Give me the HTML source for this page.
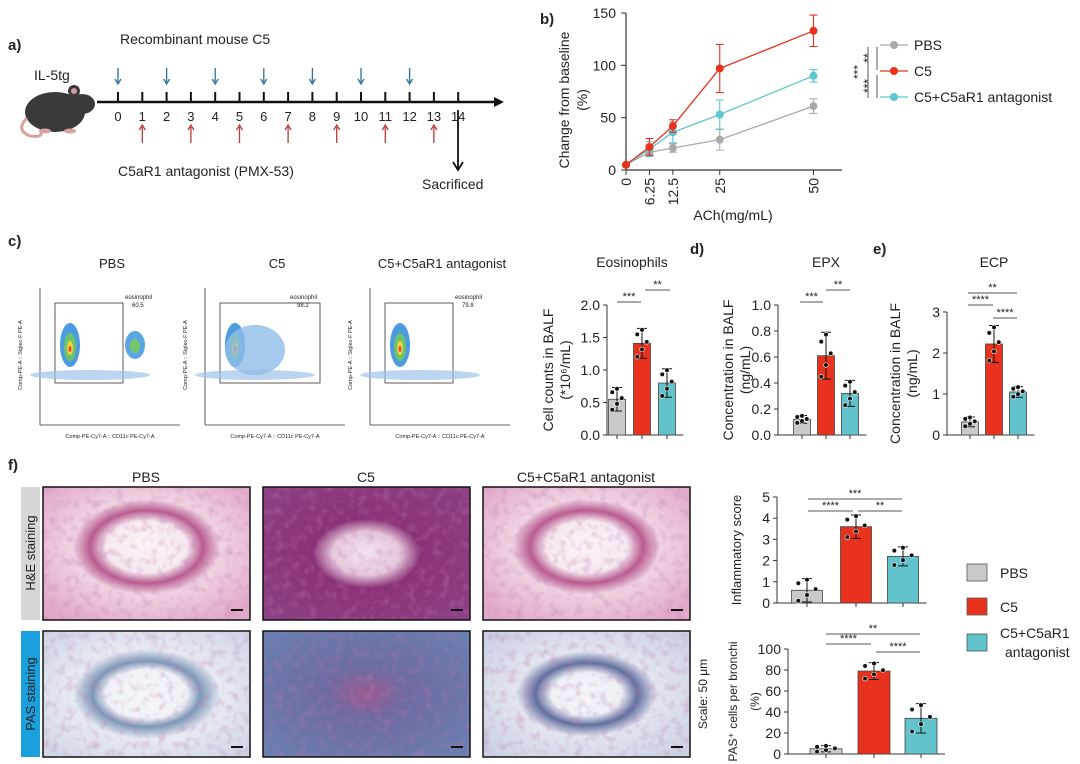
<!DOCTYPE html>
<html><head><meta charset="utf-8">
<style>
body{margin:0;background:#fff;font-family:"Liberation Sans",sans-serif}
svg{display:block}
text{font-family:"Liberation Sans",sans-serif;fill:#222}
</style></head>
<body>
<svg id="fig" width="1080" height="764" viewBox="0 0 1080 764" xmlns="http://www.w3.org/2000/svg">
<defs>
<radialGradient id="he1" cx="50%" cy="45%" r="65%"><stop offset="0" stop-color="#fbf3f8"/><stop offset="0.3" stop-color="#f6e9f1"/><stop offset="0.42" stop-color="#b85a8e"/><stop offset="0.55" stop-color="#f0d2e2"/><stop offset="1" stop-color="#e3a9c9"/></radialGradient>
<radialGradient id="he2" cx="50%" cy="50%" r="65%"><stop offset="0" stop-color="#f3e4ef"/><stop offset="0.25" stop-color="#e6c8dc"/><stop offset="0.4" stop-color="#8a3277"/><stop offset="1" stop-color="#8d3f84"/></radialGradient>
<radialGradient id="pas1" cx="50%" cy="50%" r="65%"><stop offset="0" stop-color="#f6f6f9"/><stop offset="0.3" stop-color="#f1f2f7"/><stop offset="0.4" stop-color="#7c97b8"/><stop offset="0.55" stop-color="#e8eaf2"/><stop offset="1" stop-color="#d2d7e8"/></radialGradient>
<radialGradient id="pas2" cx="50%" cy="50%" r="65%"><stop offset="0" stop-color="#9b5a91"/><stop offset="0.3" stop-color="#6d6aa2"/><stop offset="1" stop-color="#6a7eb0"/></radialGradient>
<radialGradient id="pas3" cx="50%" cy="50%" r="65%"><stop offset="0" stop-color="#f6f5f9"/><stop offset="0.26" stop-color="#eef0f6"/><stop offset="0.38" stop-color="#5f6e9e"/><stop offset="0.52" stop-color="#e3e5f0"/><stop offset="1" stop-color="#ccd1e4"/></radialGradient>
<filter id="tex" x="0" y="0" width="100%" height="100%">
<feTurbulence type="fractalNoise" baseFrequency="0.12" numOctaves="2" seed="3" result="n"/>
<feColorMatrix in="n" type="matrix" values="0 0 0 0 0.5  0 0 0 0 0.2  0 0 0 0 0.45  0 0 0 1.6 -0.75" result="m"/>
<feComposite in="m" in2="SourceGraphic" operator="in"/>
</filter>
</defs>
</svg>
<script>
// ---------- data ----------
const doses = [0, 6.25, 12.5, 25, 50];
const pbsMean = [5, 17, 21, 29, 61];
const pbsErr = [1, 3, 4, 10, 7];
const c5Mean = [5, 22, 42, 97, 133];
const c5Err = [1, 8, 6, 23, 15];
const antMean = [5, 20, 36, 53, 90];
const antErr = [1, 7, 10, 14, 6];
const eosMean = [0.55, 1.41, 0.8];
const eosErr = [0.18, 0.23, 0.22];
const epxMean = [0.12, 0.61, 0.32];
const epxErr = [0.03, 0.18, 0.1];
const ecpMean = [0.32, 2.22, 1.05];
const ecpErr = [0.12, 0.45, 0.13];
const inflMean = [0.6, 3.6, 2.2];
const inflErr = [0.55, 0.55, 0.45];
const pasMean = [5, 79, 34];
const pasErr = [3, 8, 14];
const eosTicks = ["0.0","0.5","1.0","1.5","2.0"];
const epxTicks = ["0.0","0.2","0.4","0.6","0.8","1.0"];
const ecpTicks = ["0","1","2","3"];
const inflTicks = ["0","1","2","3","4","5"];
const pasTicks = ["0","20","40","60","80","100"];
const lineTicks = ["0","50","100","150"];
const groups = ["PBS","C5","C5+C5aR1 antagonist"];
const colors = ["#c9c9c9","#e8321e","#62c3cc"];
const lineColors = ["#a9a9a9","#e8321e","#5cc5d0"];

const svg = document.getElementById('fig');
const NS = 'http://www.w3.org/2000/svg';
function mk(tag, attrs, parent){const e=document.createElementNS(NS,tag);for(const k in attrs)e.setAttribute(k,attrs[k]);(parent||svg).appendChild(e);return e;}
function txt(x,y,s,size,anchor,extra,parent){const e=mk('text',Object.assign({x:x,y:y,'font-size':size,'text-anchor':anchor||'start'},extra||{}),parent);e.textContent=s;return e;}

// ---------- panel a ----------
let el;
el=txt(8,50,'a)',15,'start',{'font-weight':'bold'});


el=txt(34,80,'IL-5tg',14);


const mg=mk('g',{});


mk('ellipse',{cx:55,cy:112,rx:30,ry:20,fill:'#3a3a3a'},mg);
mk('ellipse',{cx:82,cy:104,rx:13,ry:10,fill:'#3a3a3a'},mg);
mk('circle',{cx:74,cy:91,r:6,fill:'#3a3a3a'},mg);
mk('circle',{cx:74,cy:91,r:3,fill:'#d49a9a'},mg);
mk('path',{d:'M27 118 Q15 130 30 136 Q45 138 40 130',stroke:'#d9a0a0','stroke-width':3,fill:'none'},mg);
mk('ellipse',{cx:45,cy:131,rx:6,ry:2.5,fill:'#d9a0a0'},mg);
mk('ellipse',{cx:70,cy:131,rx:6,ry:2.5,fill:'#d9a0a0'},mg);
el=txt(120,44,'Recombinant mouse C5',14);


el=mk('line',{x1:97,y1:102,x2:496,y2:102,stroke:'#111','stroke-width':2.5});


mk('path',{d:'M504 102 L494 97 L494 107 Z',fill:'#111'});
for(let i=0;i<=14;i++){
  const x=118+i*24.3;
  el=mk('line',{x1:x,y1:92,x2:x,y2:102,stroke:'#111','stroke-width':2});
  
  
  el=txt(x,121,String(i),13,'middle');
  
  
  if(i%2===0&&i<=12){
    el=mk('path',{d:`M${x} 68 L${x} 82 M${x-3} 79 L${x} 84 L${x+3} 79`,stroke:'#2e6e96','stroke-width':1.3,fill:'none'});
    
    
  }
  if(i%2===1){
    el=mk('path',{d:`M${x} 143 L${x} 127 M${x-3} 130 L${x} 125 L${x+3} 130`,stroke:'#b83a3a','stroke-width':1.3,fill:'none'});
    
    
  }
}
el=txt(118,176,'C5aR1 antagonist (PMX-53)',14);


el=mk('path',{d:'M458 110 L458 168 M453 162 L458 170 L463 162',stroke:'#111','stroke-width':1.8,fill:'none'});


el=txt(422,189,'Sacrificed',14);



// ---------- panel b ----------
el=txt(540,24,'b)',15,'start',{'font-weight':'bold'});


const bx=v=>626+3.75*v, by=v=>170-v*157/150;
mk('line',{x1:626,y1:13,x2:626,y2:170,stroke:'#333','stroke-width':1.2});
mk('line',{x1:626,y1:170,x2:842,y2:170,stroke:'#333','stroke-width':1.2});
lineTicks.forEach(t=>{const y=by(+t);mk('line',{x1:621,y1:y,x2:626,y2:y,stroke:'#333'});
  el=txt(616,y+5,t,14,'end');
  
  });
doses.forEach(d=>{const x=bx(d);mk('line',{x1:x,y1:170,x2:x,y2:175,stroke:'#333'});
  el=txt(x+5,178,String(d),14,'end',{transform:`rotate(-90 ${x+5} 178)`});
  
  });
el=txt(569,100,'Change from baseline',14,'middle',{transform:'rotate(-90 569 100)'});


el=txt(587,100,'(%)',14,'middle',{transform:'rotate(-90 587 100)'});


el=txt(733,220,'ACh(mg/mL)',14,'middle');


[[pbsMean,pbsErr],[antMean,antErr],[c5Mean,c5Err]].forEach((s,k)=>{
  const ci=[0,2,1][k];const c=lineColors[ci];
  el=mk('polyline',{points:doses.map((d,i)=>bx(d)+','+by(s[0][i])).join(' '),fill:'none',stroke:c,'stroke-width':1.3});
  
  
  doses.forEach((d,i)=>{const x=bx(d),y1=by(s[0][i]+s[1][i]),y2=by(s[0][i]-s[1][i]);
    mk('path',{d:`M${x} ${y1} V${y2} M${x-4} ${y1} H${x+4} M${x-4} ${y2} H${x+4}`,stroke:c,'stroke-width':1.1,fill:'none'});
    el=mk('circle',{cx:x,cy:by(s[0][i]),r:4,fill:c});
    
    });
});
groups.forEach((g,i)=>{const y=45+i*26;
  el=mk('line',{x1:880,y1:y,x2:908,y2:y,stroke:lineColors[i],'stroke-width':1.3});
  
  
  mk('circle',{cx:894,cy:y,r:4,fill:lineColors[i]});
  el=txt(914,y+5,g,14);
  
  });
mk('line',{x1:868,y1:47,x2:868,y2:98,stroke:'#555'});
mk('line',{x1:877,y1:47,x2:877,y2:70,stroke:'#555'});
mk('line',{x1:877,y1:75,x2:877,y2:98,stroke:'#555'});
el=txt(862,72,'***',12,'middle',{transform:'rotate(-90 862 72)'});
el=txt(872,58,'**',12,'middle',{transform:'rotate(-90 872 58)'});
el=txt(872,86,'***',12,'middle',{transform:'rotate(-90 872 86)'});

// ---------- bar chart helper ----------
function barChart(o){
  const y=v=>o.y0-(v/o.max)*(o.y0-o.yTop);
  mk('line',{x1:o.ax,y1:o.yTop,x2:o.ax,y2:o.y0,stroke:'#333'});
  mk('line',{x1:o.ax,y1:o.y0,x2:o.xs[2]+o.w/2+8,y2:o.y0,stroke:'#333'});
  o.ticks.forEach(t=>{const yy=y(+t);mk('line',{x1:o.ax-4,y1:yy,x2:o.ax,y2:yy,stroke:'#333'});
    el=txt(o.ax-7,yy+5,t,o.fs||14,'end');
    
    });
  o.mean.forEach((m,i)=>{const x=o.xs[i];
    mk('line',{x1:x,y1:o.y0,x2:x,y2:o.y0+4,stroke:'#333'});
    el=mk('rect',{x:x-o.w/2,y:y(m),width:o.w,height:o.y0-y(m),fill:colors[i],stroke:'#444','stroke-width':0.8});
    
    
    const e1=y(m+o.err[i]),e2=y(Math.max(0,m-o.err[i]));
    mk('path',{d:`M${x} ${e1} V${e2} M${x-5} ${e1} H${x+5} M${x-5} ${e2} H${x+5}`,stroke:'#111','stroke-width':1,fill:'none'});
    [-0.9,-0.4,0.1,0.6,0.9].forEach((f,j)=>{el=mk('circle',{cx:x+((j%3)-1)*o.w*0.28,cy:y(Math.max(0,m+f*o.err[i])),r:2.3,fill:'#111',stroke:'#fff','stroke-width':0.6});
      
      });
  });
  o.sig.forEach(s=>{mk('line',{x1:s[0],y1:s[2],x2:s[1],y2:s[2],stroke:'#555'});
    el=txt((s[0]+s[1])/2,s[2]-2,s[3],11,'middle');
    
    });
  o.ylab.forEach((l,k)=>{const lx=o.lxs?o.lxs[k]:o.lx+k*17;const cy=(o.yTop+o.y0)/2;
    el=txt(lx,cy,l,o.lfs||14,'middle',{transform:`rotate(-90 ${lx} ${cy})`});
    
    });
  if(o.title){el=txt(o.tx,o.ty,o.title,14,'middle');}
}
barChart({name:'eos',ax:607,y0:435,yTop:305,max:2,ticks:eosTicks,xs:[617,642,667],w:17,mean:eosMean,err:eosErr,
  sig:[[617,641,302,'***'],[645,670,290,'**']],ylab:['Cell counts in BALF','(*10⁶/mL)'],lx:553,title:'Eosinophils',tx:632,ty:267});
barChart({name:'epx',ax:778,y0:435,yTop:305,max:1,ticks:epxTicks,xs:[802,826,850],w:17,mean:epxMean,err:epxErr,
  sig:[[800,823,302,'***'],[826,850,290,'**']],ylab:['Concentration in BALF','(ng/mL)'],lx:733,title:'EPX',tx:826,ty:267});
barChart({name:'ecp',ax:947,y0:435,yTop:312,max:3,ticks:ecpTicks,xs:[970,994,1018],w:17,mean:ecpMean,err:ecpErr,
  sig:[[968,1017,293,'**'],[968,993,305,'****'],[993,1017,318,'****']],ylab:['Concentration in BALF','(ng/mL)'],lx:900,title:'ECP',tx:994,ty:267});
[['c)',8,246],['d)',690,254],['e)',873,254]].forEach(p=>{el=txt(p[1],p[2],p[0],15,'start',{'font-weight':'bold'});});

// ---------- flow plots ----------
[['PBS',40,60.5],['C5',205,98.2],['C5+C5aR1 antagonist',370,79.8]].forEach((f,k)=>{
  const x0=f[1];
  el=txt(x0+72,268,f[0],13,'middle');
  const g=mk('g',{});
  
  
  mk('line',{x1:x0,y1:288,x2:x0,y2:425,stroke:'#333','stroke-width':0.8},g);
  mk('line',{x1:x0,y1:425,x2:x0+140,y2:425,stroke:'#333','stroke-width':0.8},g);
  mk('rect',{x:x0+15,y:303,width:k===1?100:68,height:80,fill:'none',stroke:'#333','stroke-width':0.8},g);
  mk('ellipse',{cx:x0+50,cy:375,rx:60,ry:5,fill:'#9ec3ea',opacity:0.7},g);
  mk('ellipse',{cx:x0+30,cy:345,rx:10,ry:22,fill:'#4a9be0'},g);
  mk('ellipse',{cx:x0+30,cy:347,rx:6,ry:14,fill:'#6cc26a'},g);
  mk('ellipse',{cx:x0+30,cy:348,rx:3,ry:7,fill:'#f0d23a'},g);
  mk('ellipse',{cx:x0+30,cy:349,rx:1.5,ry:3,fill:'#e44'},g);
  if(k===0){mk('ellipse',{cx:x0+95,cy:345,rx:10,ry:14,fill:'#5aa5e2'},g);mk('ellipse',{cx:x0+95,cy:346,rx:5,ry:7,fill:'#78c66a'},g);}
  if(k===1){mk('ellipse',{cx:x0+50,cy:350,rx:30,ry:25,fill:'#8fbde9',opacity:0.8},g);}
  txt(x0+85,299,'eosinophil',6,'start',{},g);txt(x0+92,307,String(f[2]),6,'start',{},g);
  txt(x0+70,438,'Comp-PE-Cy7-A :: CD11c PE-Cy7-A',5.5,'middle',{},g);
  txt(x0-18,355,'Comp-PE-A :: Siglec-F PE-A',5.5,'middle',{transform:`rotate(-90 ${x0-18} 355)`},g);
});

// ---------- panel f ----------
el=txt(8,470,'f)',15,'start',{'font-weight':'bold'});
[['PBS',146],['C5',366],['C5+C5aR1 antagonist',586]].forEach(t=>{el=txt(t[1],482,t[0],14,'middle');});
el=mk('rect',{x:21,y:487,width:19,height:133,fill:'#d6d6d6'});
el=txt(35,553,'H&E staining',13,'middle',{transform:'rotate(-90 35 553)'});
el=mk('rect',{x:21,y:631,width:19,height:126,fill:'#1aa0dc'});
el=txt(35,694,'PAS staining',13,'middle',{transform:'rotate(-90 35 694)'});
const fills=[['he1','he2','he1'],['pas1','pas2','pas3']];
[[487,133],[631,126]].forEach((r,ri)=>{[43,263,483].forEach((cx,ci)=>{
  el=mk('rect',{x:cx,y:r[0],width:207,height:r[1],fill:`url(#${fills[ri][ci]})`,stroke:'#111','stroke-width':1.5});
  
  
  mk('rect',{x:cx+1,y:r[0]+1,width:205,height:r[1]-2,fill:'#fff',filter:'url(#tex)',opacity:0.55});
  mk('line',{x1:cx+188,y1:r[0]+r[1]-10,x2:cx+200,y2:r[0]+r[1]-10,stroke:'#111','stroke-width':2});
});});
el=txt(707,694,'Scale: 50 μm',12,'middle',{transform:'rotate(-90 707 694)'});
barChart({name:'inflammatory',ax:777,y0:603,yTop:497,max:5,ticks:inflTicks,xs:[807,856,903],w:31,mean:inflMean,err:inflErr,
  sig:[[808,902,499,'***'],[808,853,511,'****'],[858,902,511,'**']],ylab:['Inflammatory score'],lxs:[741],lfs:13,fs:14});
barChart({name:'pas',ax:788,y0:754,yTop:649,max:100,ticks:pasTicks,xs:[826,874,921],w:32,mean:pasMean,err:pasErr,
  sig:[[826,920,634,'**'],[826,871,644,'****'],[876,920,652,'****']],ylab:['PAS⁺ cells per bronchi','(%)'],lxs:[737,759],lfs:12,fs:14});
groups.forEach((g,i)=>{const y=[573,607,643][i];
  el=mk('rect',{x:967,y:y-9,width:20,height:17,fill:colors[i],stroke:'#555','stroke-width':0.8});
  
  
  if(i<2){el=txt(1000,y+5,g,14);}else{el=txt(1000,y-5,'C5+C5aR1',14);txt(1005,y+14,'antagonist',14);}
  
  });
</script>
</body></html>
